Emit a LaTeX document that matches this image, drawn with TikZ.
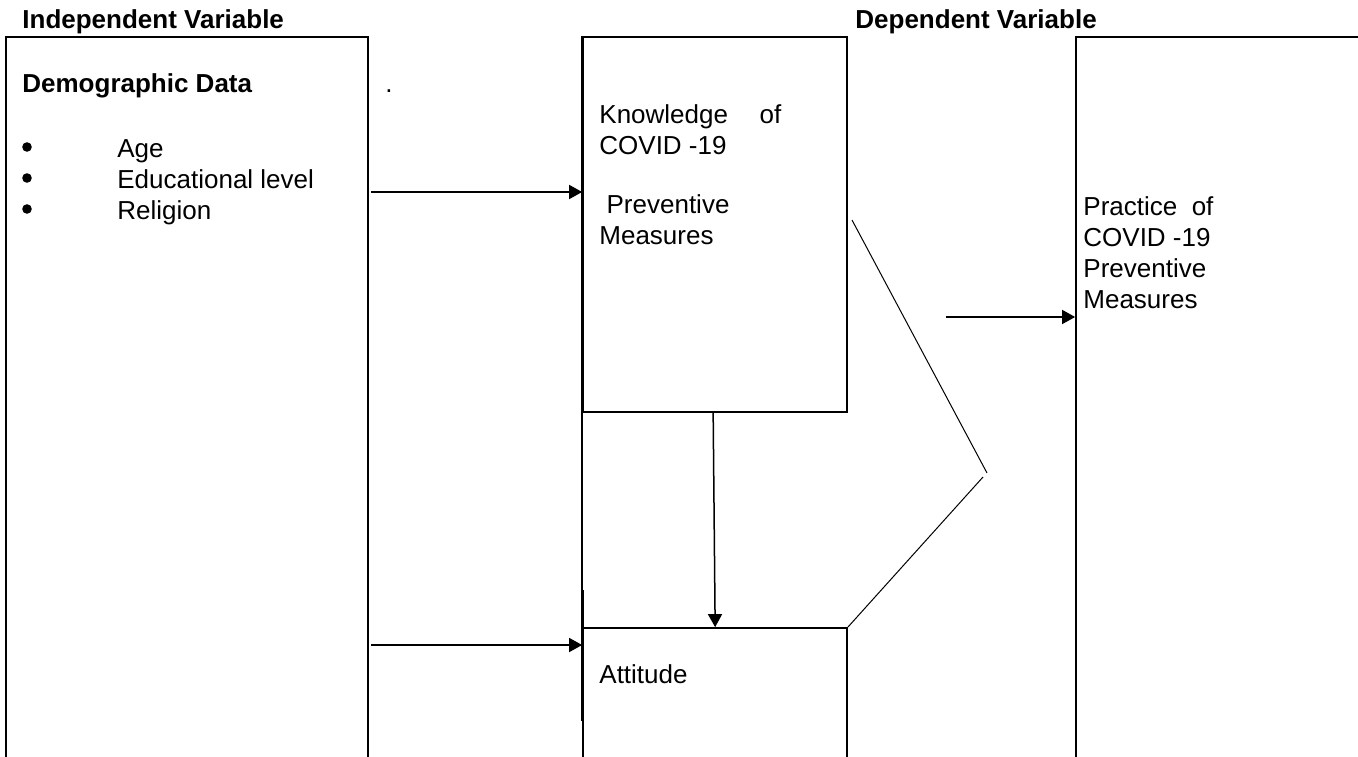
\documentclass[tikz,border=0pt]{standalone}
\usepackage{fontspec}
\setmainfont{Liberation Sans}
\usetikzlibrary{arrows.meta, calc, fit}

\begin{document}
\begin{tikzpicture}[x=0.5pt, y=-0.5pt,
    font=\fontsize{13}{15.5}\selectfont,
    box/.style={draw, line width=0.85pt, inner sep=0pt},
    txt/.style={inner sep=0pt, anchor=base west},
    head/.style={txt, font=\fontsize{13}{15.5}\selectfont\bfseries},
    lines/.style={inner sep=0pt, anchor=north west, align=left},
    dotmark/.style={circle, fill, inner sep=0pt, minimum size=4.8pt},
    arr/.style={line width=0.75pt, -{Triangle[length=6.5pt, width=7pt]}},
    edge/.style={line width=0.85pt},
    thickedge/.style={line width=1.6pt},
    slant/.style={line width=0.5pt}]
  \useasboundingbox (0,0) rectangle (1358,756);
  \clip (0,0) rectangle (1358,756);
  % boxes
  \node[box, fit={(6,37) (368,790)}] (demo) {};
  \node[box, fit={(583,37) (847,412)}] (know) {};
  \node[box, fit={(583,628) (847,790)}] (att) {};
  \node[box, fit={(1076,37) (1420,790)}] (prac) {};
  \draw[edge] (know.south west) -- (att.north west);
  \draw[thickedge] (know.north west) -- (know.south west);
  \draw[thickedge] ($(att.north west)+(0,-37)$) -- ($(att.north west)+(0,94)$);
  % headings
  \node[head] (indep) at (22,28) {Independent Variable};
  \node[head] (dep) at (855,28) {Dependent Variable};
  % texts
  \node[head] (demotitle) at (22,92) {Demographic Data};
  \foreach \t [count=\i] in {Age, Educational level, Religion}{
      \node[dotmark] (bul\i) at (27,116+\i*31) {};
      \node[txt] (item\i) at (117,126+\i*31) {\t};
  }
  \node[txt] (dot) at (385,92) {.};
  \node[lines] (ktext) at (599,104) {\makebox[91pt][l]{Knowledge\hfill of}\\COVID -19\\[14pt]\ Preventive\\Measures};
  \node[txt] (atext) at (599,683) {Attitude};
  \node[lines] (ptext) at (1083,196) {Practice\ \ of\\COVID -19\\Preventive\\Measures};
  % connectors
  \coordinate (a1) at (371,192);
  \coordinate (a2) at (371,645);
  \coordinate (a3) at (946,317);
  \draw[arr] (a1) -- (a1 -| know.west);
  \draw[arr] (a2) -- (a2 -| att.west);
  \draw[arr] ($(know.south west)+(131,0)$) -- ($(att.north west)+(133,0)$);
  \draw[arr] (a3) -- (a3 -| prac.west);
  \coordinate (v1) at (852,220);
  \coordinate (v2) at (987,473);
  \coordinate (v3) at (983,477);
  \draw[slant] (v1) -- (v2);
  \draw[slant] (v3) -- (att.north east);
\end{tikzpicture}
\end{document}
